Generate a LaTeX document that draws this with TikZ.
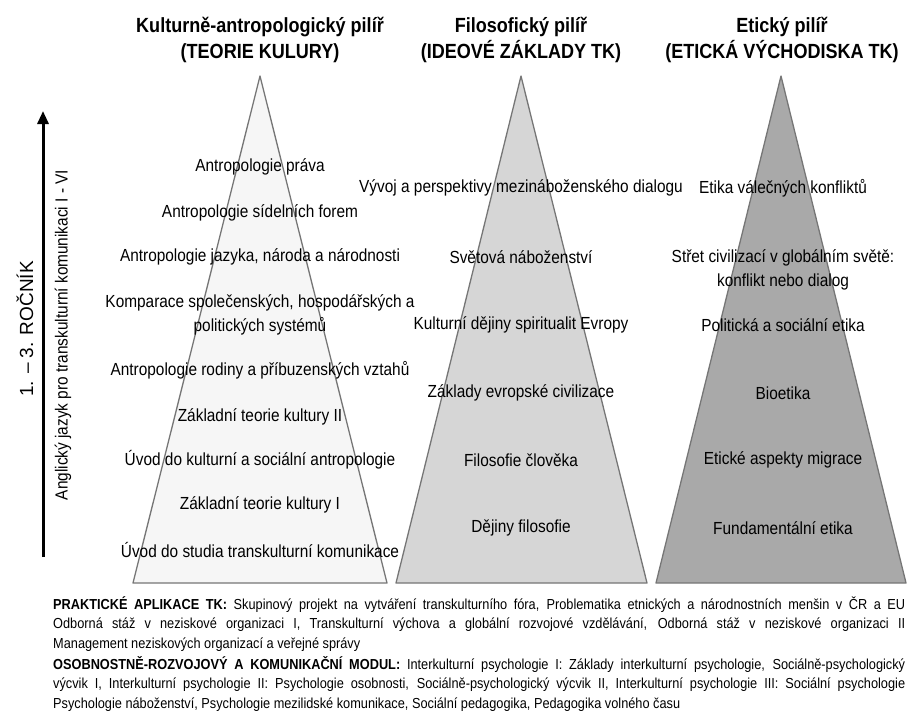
\documentclass[tikz,border=0pt]{standalone}
\usepackage{fontspec}
\setmainfont{Liberation Sans}[FakeStretch=0.88]
\newfontfamily\widefont{Liberation Sans}
\usetikzlibrary{arrows.meta}
\hyphenpenalty=10000

\definecolor{edgegray}{HTML}{767676}
\definecolor{fillA}{HTML}{F6F6F6}
\definecolor{fillB}{HTML}{D6D6D6}
\definecolor{fillC}{HTML}{A9A9A9}

\tikzset{
  pillar/.style={draw=edgegray,line width=1.3pt,line join=round},
  course/.style={font=\fontsize{17.5}{24}\selectfont,align=center,inner sep=0pt},
  head/.style={font=\bfseries\fontsize{20.5}{26}\selectfont,align=center,inner sep=0pt},
  note/.style={font=\fontsize{14.5}{19.5}\selectfont,text width=852pt,align=justify,inner sep=0pt,anchor=north west}
}

\begin{document}
\begin{tikzpicture}[x=1pt,y=-1pt]
\useasboundingbox (0,0) rectangle (907,713);

\coordinate (topA) at (260,76);
\coordinate (leftA) at (133,583);
\coordinate (rightA) at (387,583);
\coordinate (topB) at (521,76);
\coordinate (leftB) at (396,583);
\coordinate (rightB) at (647,583);
\coordinate (topC) at (781,76);
\coordinate (leftC) at (656,583);
\coordinate (rightC) at (906,583);

\filldraw[pillar,fill=fillA] (topA) -- (leftA) -- (rightA) -- cycle;
\filldraw[pillar,fill=fillB] (topB) -- (leftB) -- (rightB) -- cycle;
\filldraw[pillar,fill=fillC] (topC) -- (leftC) -- (rightC) -- cycle;

\node[head] (headA) at (260,40) {Kulturně-antropologický pilíř\\(TEORIE KULURY)};
\node[head] (headB) at (521,40) {Filosofický pilíř\\(IDEOVÉ ZÁKLADY TK)};
\node[head] (headC) at (782,40) {Etický pilíř\\(ETICKÁ VÝCHODISKA TK)};

\foreach \n/\y/\t in {1/167/Antropologie práva,
  2/213/Antropologie sídelních forem,
  3/257/{Antropologie jazyka, národa a národnosti},
  4/315/{Komparace společenských, hospodářských a\\politických systémů},
  5/370/Antropologie rodiny a příbuzenských vztahů,
  6/417/Základní teorie kultury II,
  7/460/Úvod do kulturní a sociální antropologie,
  8/505/Základní teorie kultury I,
  9/550/Úvod do studia transkulturní komunikace}
  \node[course] (kult\n) at (260,\y) {\t};

\foreach \n/\y/\t in {1/188/Vývoj a perspektivy mezináboženského dialogu,
  2/257/Světová náboženství,
  3/325/Kulturní dějiny spiritualit Evropy,
  4/393/Základy evropské civilizace,
  5/460/Filosofie člověka,
  6/528/Dějiny filosofie}
  \node[course] (filo\n) at (521,\y) {\t};

\foreach \n/\y/\t in {1/188/Etika válečných konfliktů,
  2/270/{Střet civilizací v globálním světě:\\konflikt nebo dialog},
  3/325/Politická a sociální etika,
  4/393/Bioetika,
  5/460/Etické aspekty migrace,
  6/528/Fundamentální etika}
  \node[course] (etik\n) at (783,\y) {\t};

\coordinate (yearlow) at (43,557);
\coordinate (yearhigh) at (43,111);
\draw[line width=3pt,-{Triangle[length=13pt,width=11pt]}] (yearlow) -- (yearhigh);
\node[font=\widefont\fontsize{19}{22}\selectfont,rotate=90,inner sep=0pt] (year) at (25,329) {1. – 3. ROČNÍK};
\node[course,rotate=90] (lang) at (63,335) {Anglický jazyk pro transkulturní komunikaci I - VI};

\node[note] (prakt) at (53,596) {\textbf{PRAKTICKÉ APLIKACE TK:} Skupinový projekt na vytváření transkulturního fóra, Problematika etnických a národnostních menšin v ČR a EU\linebreak
Odborná stáž v neziskové organizaci I, Transkulturní výchova a globální rozvojové vzdělávání, Odborná stáž v neziskové organizaci II\linebreak
Management neziskových organizací a veřejné správy};
\node[note] (modul) at (53,656) {\textbf{OSOBNOSTNĚ-ROZVOJOVÝ A KOMUNIKAČNÍ MODUL:} Interkulturní psychologie I: Základy interkulturní psychologie, Sociálně-psychologický\linebreak
výcvik I, Interkulturní psychologie II: Psychologie osobnosti, Sociálně-psychologický výcvik II, Interkulturní psychologie III: Sociální psychologie\linebreak
Psychologie náboženství, Psychologie mezilidské komunikace, Sociální pedagogika, Pedagogika volného času};
\end{tikzpicture}
\end{document}
